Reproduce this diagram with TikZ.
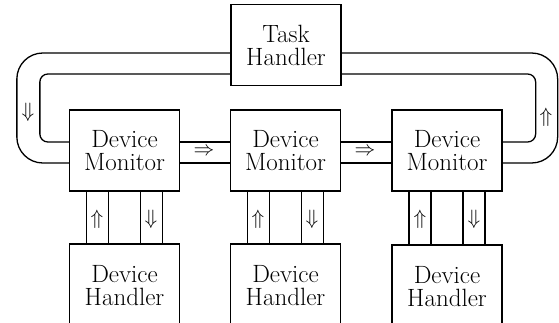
\documentclass[tikz,border=0pt]{standalone}
\usetikzlibrary{positioning}
\begin{document}
\begin{tikzpicture}[x=1pt,y=-1pt,line width=1.3pt,
  blk/.style={draw,line width=1.3pt,minimum width=110pt,minimum height=81pt,align=center,inner sep=0pt,
    font=\fontsize{25}{23}\selectfont},
  arr/.style={inner sep=0pt,font=\fontsize{22}{22}\selectfont}]
\useasboundingbox (0,0) rectangle (559,323);
\clip (0,0) rectangle (559,323);
% boxes
\node[blk] (th) at (286,45) {Task\\Handler};
\node[blk] (dm1) at (124.5,150.5) {Device\\Monitor};
\node[blk] (dm2) at (285.5,150.5) {Device\\Monitor};
\node[blk] (dm3) at (447,150.5) {Device\\Monitor};
\node[blk,minimum height=84pt] (dh1) at (124.5,286) {Device\\Handler};
\node[blk,minimum height=84pt] (dh2) at (285.5,286) {Device\\Handler};
\node[blk,minimum height=84pt] (dh3) at (447,287) {Device\\Handler};
% horizontal links between monitors
\foreach \a/\b in {dm1/dm2,dm2/dm3}{
  \draw ([yshift=8.5pt]\a.east) -- ([yshift=8.5pt]\b.west);
  \draw ([yshift=-12.5pt]\a.east) -- ([yshift=-12.5pt]\b.west);
}
% vertical links monitor - handler
\foreach \a/\b in {dm1/dh1,dm2/dh2,dm3/dh3}{
  \foreach \s in {-38,-16,16,38}{
    \draw ([xshift=\s pt]\a.south) -- ([xshift=\s pt]\b.north);
  }
}
% left loop
\draw[rounded corners=8pt] ([yshift=-29pt]th.west) -| ([xshift=-29pt,yshift=8.5pt]dm1.west) -- ([yshift=8.5pt]dm1.west);
\draw[rounded corners=26pt] ([yshift=-8pt]th.west) -| ([xshift=-52pt,yshift=-12.5pt]dm1.west) -- ([yshift=-12.5pt]dm1.west);
% right loop
\draw[rounded corners=8pt] ([yshift=8.5pt]dm3.east) -| ([xshift=194pt,yshift=-29pt]th.east) -- ([yshift=-29pt]th.east);
\draw[rounded corners=26pt] ([yshift=-12.5pt]dm3.east) -| ([xshift=216pt,yshift=-8pt]th.east) -- ([yshift=-8pt]th.east);
% arrows
\node[arr] (al) at (28,112) {$\Downarrow$};
\node[arr] (ar) at (546,117) {$\Uparrow$};
\node[arr] (r1) at (204,152) {$\Rightarrow$};
\node[arr] (r2) at (365,152) {$\Rightarrow$};
\node[arr] (u1) at (97,219) {$\Uparrow$};
\node[arr] (d1) at (151,219) {$\Downarrow$};
\node[arr] (u2) at (258,219) {$\Uparrow$};
\node[arr] (d2) at (312,219) {$\Downarrow$};
\node[arr] (u3) at (420,219) {$\Uparrow$};
\node[arr] (d3) at (474,219) {$\Downarrow$};
\end{tikzpicture}
\end{document}
